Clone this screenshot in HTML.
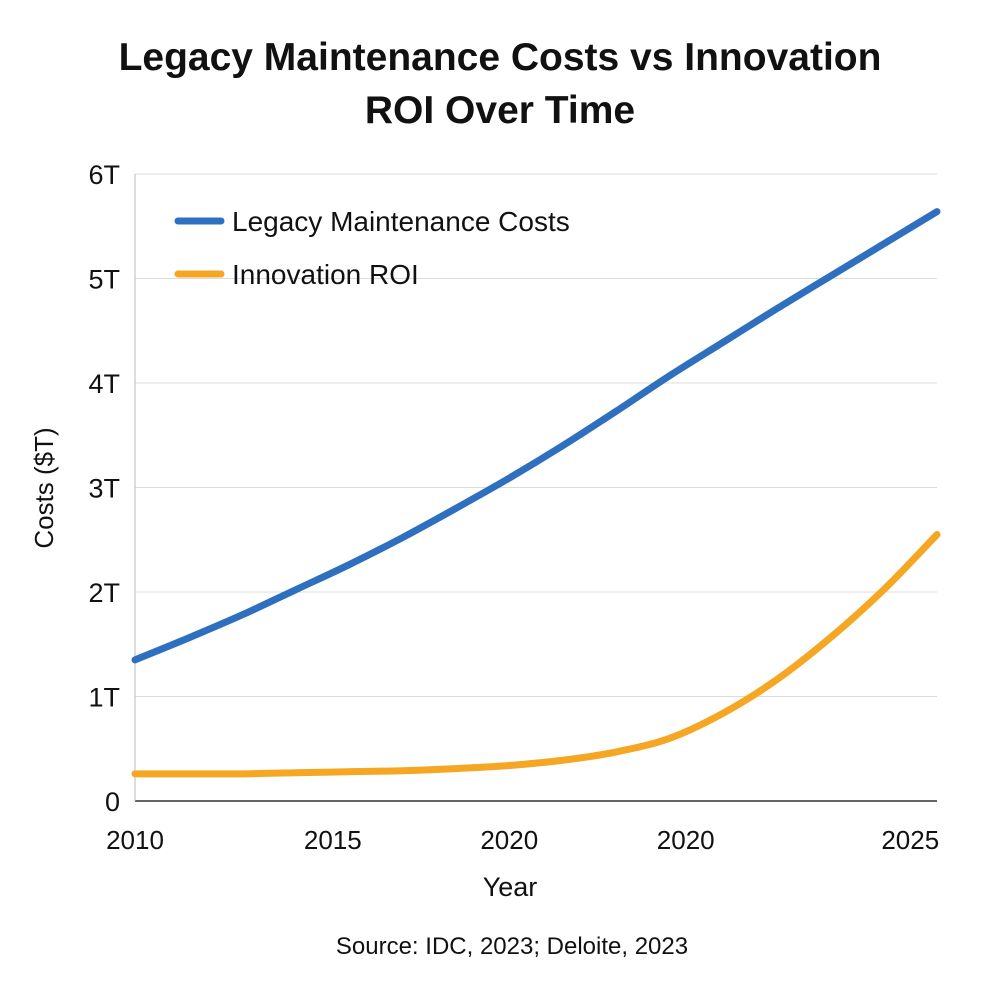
<!DOCTYPE html>
<html><head><meta charset="utf-8"><style>
body{margin:0;background:#fff;}
svg text{font-family:"Liberation Sans","DejaVu Sans",sans-serif;fill:#111;}
</style></head><body>
<svg id="chart" width="1000" height="1000" viewBox="0 0 1000 1000">
<text x="500" y="70" text-anchor="middle" font-size="39" font-weight="bold">Legacy Maintenance Costs vs Innovation</text>
<text x="500" y="123" text-anchor="middle" font-size="39" font-weight="bold">ROI Over Time</text>
<g id="grid"></g>
<g id="yticks"></g>
<g id="xticks"></g>
<line x1="135" y1="801" x2="937" y2="801" stroke="#333" stroke-width="1.5"/>
<line x1="135" y1="174" x2="135" y2="801" stroke="#bbb" stroke-width="1"/>
<g id="series"></g>
<text transform="translate(53,488) rotate(-90)" text-anchor="middle" font-size="26">Costs ($T)</text>
<text x="510" y="896" text-anchor="middle" font-size="27">Year</text>
<text x="512" y="954" text-anchor="middle" font-size="24">Source: IDC, 2023; Deloite, 2023</text>
<g>
<line x1="178" y1="221" x2="221" y2="221" stroke="#2f6fbf" stroke-width="7" stroke-linecap="round"/>
<text x="232" y="231" font-size="28">Legacy Maintenance Costs</text>
<line x1="178" y1="274" x2="221" y2="274" stroke="#f5a623" stroke-width="7" stroke-linecap="round"/>
<text x="232" y="284" font-size="28">Innovation ROI</text>
</g>
</svg>
<script>
const years=[2010,2011,2012,2013,2014,2015,2016,2017,2018,2019,2020,2021,2022,2023,2024,2025];
const legacyCosts=[1.35,1.56,1.78,2.02,2.26,2.52,2.8,3.09,3.4,3.73,4.07,4.39,4.71,5.02,5.33,5.64];
const innovationROI=[0.26,0.26,0.26,0.27,0.28,0.29,0.31,0.34,0.39,0.47,0.6,0.84,1.16,1.56,2.02,2.55];
const yTickValues=[0,1,2,3,4,5,6];
const yTickLabels=["0","1T","2T","3T","4T","5T","6T"];
const xTickYears=[2010,2013.7,2017,2020.3,2024.5];
const xTickLabels=["2010","2015","2020","2020","2025"];
const NS="http://www.w3.org/2000/svg";
const X=y=>135+(y-2010)/15*802;
const Y=v=>801-v*104.5;
const grid=document.getElementById('grid'),yt=document.getElementById('yticks'),xt=document.getElementById('xticks'),ser=document.getElementById('series');
yTickValues.forEach((v,i)=>{
 if(v>0){const l=document.createElementNS(NS,'line');
 
 
 l.setAttribute('x1',135);l.setAttribute('x2',937);l.setAttribute('y1',Y(v));l.setAttribute('y2',Y(v));
 l.setAttribute('stroke','#dcdcdc');l.setAttribute('stroke-width','1');grid.appendChild(l);}
 const t=document.createElementNS(NS,'text');
 
 
 t.setAttribute('x',120);t.setAttribute('y',Y(v)+10);t.setAttribute('text-anchor','end');t.setAttribute('font-size','27');
 t.textContent=yTickLabels[i];yt.appendChild(t);
});
xTickYears.forEach((yr,i)=>{
 const t=document.createElementNS(NS,'text');
 
 
 t.setAttribute('x',X(yr));t.setAttribute('y',849);t.setAttribute('text-anchor','middle');t.setAttribute('font-size','26');
 t.textContent=xTickLabels[i];xt.appendChild(t);
});
function path(vals){
 const p=vals.map((v,i)=>[X(years[i]),Y(v)]);
 let d='M'+p[0][0]+','+p[0][1];
 for(let i=0;i<p.length-1;i++){
  const p0=p[i-1]||p[i],p1=p[i],p2=p[i+1],p3=p[i+2]||p2;
  const c1=[p1[0]+(p2[0]-p0[0])/6,p1[1]+(p2[1]-p0[1])/6],c2=[p2[0]-(p3[0]-p1[0])/6,p2[1]-(p3[1]-p1[1])/6];
  d+=` C${c1[0]},${c1[1]} ${c2[0]},${c2[1]} ${p2[0]},${p2[1]}`;
 }
 return d;
}
[[legacyCosts,'#2f6fbf','legacy-costs-line'],[innovationROI,'#f5a623','innovation-roi-line']].forEach(s=>{
 const el=document.createElementNS(NS,'path');
 
 
 el.setAttribute('d',path(s[0]));el.setAttribute('fill','none');el.setAttribute('stroke',s[1]);
 el.setAttribute('stroke-width','7');el.setAttribute('stroke-linecap','round');ser.appendChild(el);
});
</script>
</body></html>
